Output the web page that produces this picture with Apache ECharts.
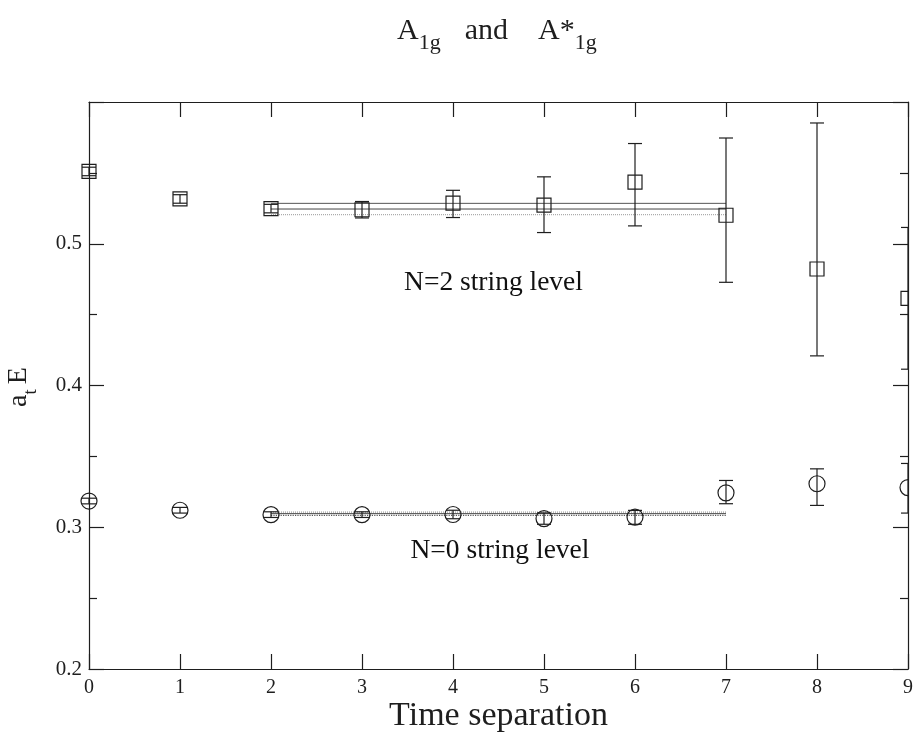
<!DOCTYPE html>
<html>
<head>
<meta charset="utf-8">
<script src="https://cdn.jsdelivr.net/npm/echarts@6/dist/echarts.min.js"></script>
<style>
  html, body { margin: 0; padding: 0; background: #fff; }
  #chart { width: 913px; height: 732px; }
</style>
</head>
<body>
<div id="chart"></div>
<script>
// Effective energies a_t E versus time separation
const timeSep = [0, 1, 2, 3, 4, 5, 6, 7, 8, 9];

// N=2 string level (squares)
const n2Energy  = [0.551, 0.5316, 0.5248, 0.524, 0.5286, 0.5272, 0.5435, 0.5201, 0.4822, 0.4615];
const n2ErrUp   = [0.003, 0.003, 0.003, 0.0058, 0.0091, 0.0200, 0.0272, 0.0545, 0.1030, 0.05];
const n2ErrDown = [0.003, 0.003, 0.003, 0.0058, 0.0101, 0.0193, 0.0309, 0.0473, 0.0613, 0.05];

// N=0 string level (circles)
const n0Energy  = [0.3185, 0.312, 0.3089, 0.3089, 0.309, 0.3061, 0.3072, 0.3243, 0.3307, 0.328];
const n0ErrUp   = [0.002, 0.002, 0.002, 0.002, 0.003, 0.004, 0.0047, 0.0087, 0.0105, 0.017];
const n0ErrDown = [0.002, 0.002, 0.002, 0.002, 0.003, 0.004, 0.0051, 0.0077, 0.0153, 0.018];

// Plateau fits: [lower, central, upper] over the fit window
const fitRange = [2, 7];
const n2Fit = [0.5205, 0.5245, 0.5285];
const n0Fit = [0.3084, 0.3096, 0.3107];

const yTickLabels = ['0.2', '0.3', '0.4', '0.5'];
const levelLabels = ['N=2 string level', 'N=0 string level'];
const levelLabelPos = [[4.445, 0.4726], [4.516, 0.2832]];

const INK = '#1e1e1e';
const SERIF = '"Liberation Serif", "DejaVu Serif", serif';

function errorBarRenderer(shape) {
  return function (params, api) {
    const x = api.value(0), v = api.value(1), up = api.value(2), dn = api.value(3);
    const c = api.coord([x, v]);
    const top = api.coord([x, v + up])[1];
    const bot = api.coord([x, v - dn])[1];
    const cs = params.coordSys;
    const cap = 7;
    const st = { stroke: INK, lineWidth: 1.2, fill: 'none' };
    const marker = shape === 'square'
      ? { type: 'rect', shape: { x: c[0] - 7, y: c[1] - 7, width: 14, height: 14 }, style: st }
      : { type: 'circle', shape: { cx: c[0], cy: c[1], r: 8 }, style: st };
    return {
      type: 'group',
      // points on the right frame are cut by it; the left frame is not
      clipPath: { type: 'rect', shape: { x: cs.x - 30, y: cs.y - 30, width: cs.width + 30, height: cs.height + 60 } },
      children: [
        { type: 'line', shape: { x1: c[0], y1: top, x2: c[0], y2: bot }, style: st },
        { type: 'line', shape: { x1: c[0] - cap, y1: top, x2: c[0] + cap, y2: top }, style: st },
        { type: 'line', shape: { x1: c[0] - cap, y1: bot, x2: c[0] + cap, y2: bot }, style: st },
        marker
      ]
    };
  };
}

function fitLine(value, color, type, width) {
  return {
    type: 'line',
    data: [[fitRange[0], value], [fitRange[1], value]],
    symbol: 'none',
    silent: true,
    lineStyle: { color: color, type: type, width: width },
    z: 1
  };
}

const tickStyle = { color: INK, width: 1.2 };

const chart = echarts.init(document.getElementById('chart'), null, { renderer: 'canvas' });
chart.setOption({
  backgroundColor: '#fff',
  animation: false,
  title: {
    text: '{a|A}{s|1g}{w|and}{a|A*}{s|1g}',
    left: 392,
    top: 11,
    textStyle: {
      rich: {
        a: { fontFamily: SERIF, fontSize: 30, fontWeight: 'normal', color: INK, lineHeight: 38, verticalAlign: 'top' },
        w: { fontFamily: SERIF, fontSize: 30, fontWeight: 'normal', color: INK, lineHeight: 38, verticalAlign: 'top', padding: [0, 30, 0, 24] },
        s: { fontFamily: SERIF, fontSize: 22, fontWeight: 'normal', color: INK, lineHeight: 20, verticalAlign: 'bottom' }
      }
    }
  },
  grid: { left: 89, right: 5, top: 102, bottom: 63, outerBoundsMode: 'none' },
  xAxis: [
    {
      type: 'value', min: 0, max: 9, interval: 1, position: 'bottom',
      axisLine: { onZero: false, lineStyle: tickStyle },
      axisTick: { inside: true, length: 15, lineStyle: tickStyle },
      axisLabel: { fontFamily: SERIF, fontSize: 20, color: INK, margin: 9 },
      splitLine: { show: false },
      name: 'Time separation',
      nameLocation: 'middle',
      nameMoveOverlap: false,
      nameGap: 30,
      nameTextStyle: { fontFamily: SERIF, fontSize: 34, color: INK }
    },
    {
      type: 'value', min: 0, max: 9, interval: 1, position: 'top',
      axisLine: { onZero: false, lineStyle: tickStyle },
      axisTick: { inside: true, length: 15, lineStyle: tickStyle },
      axisLabel: { show: false },
      splitLine: { show: false }
    }
  ],
  yAxis: [
    {
      type: 'value', min: 0.2, max: 0.6, interval: 0.1, position: 'left',
      axisLine: { onZero: false, lineStyle: tickStyle },
      axisTick: { inside: true, length: 15, lineStyle: tickStyle },
      minorTick: { show: true, splitNumber: 2, length: 8, lineStyle: tickStyle },
      axisLabel: {
        fontFamily: SERIF, fontSize: 21, color: INK, margin: 7,
        formatter: function (v) {
          const s = v.toFixed(1);
          return yTickLabels.indexOf(s) >= 0 ? s : '';
        }
      },
      splitLine: { show: false }
    },
    {
      type: 'value', min: 0.2, max: 0.6, interval: 0.1, position: 'right',
      axisLine: { onZero: false, lineStyle: tickStyle },
      axisTick: { inside: true, length: 15, lineStyle: tickStyle },
      minorTick: { show: true, splitNumber: 2, length: 8, lineStyle: tickStyle },
      axisLabel: { show: false },
      splitLine: { show: false }
    }
  ],
  graphic: [
    {
      type: 'text',
      x: 23, y: 387,
      rotation: Math.PI / 2,
      style: {
        text: '{a|a}{t|t}{a|E}',
        align: 'center', verticalAlign: 'middle',
        rich: {
          a: { fontFamily: SERIF, fontSize: 28, fill: INK, lineHeight: 36, verticalAlign: 'top' },
          t: { fontFamily: SERIF, fontSize: 19, fill: INK, lineHeight: 16, verticalAlign: 'bottom', padding: [0, 5, 0, 0] }
        }
      }
    }
  ],
  series: [
    fitLine(n2Fit[0], '#999', 'dotted', 1),
    fitLine(n2Fit[1], '#444', 'solid', 1),
    fitLine(n2Fit[2], '#555', 'solid', 1),
    fitLine(n0Fit[0], '#555', 'dotted', 1.2),
    fitLine(n0Fit[1], '#444', 'solid', 1),
    fitLine(n0Fit[2], '#888', 'dotted', 1),
    {
      type: 'custom',
      renderItem: errorBarRenderer('square'),
      clip: false,
      encode: { x: 0, y: 1 },
      data: timeSep.map((t, i) => [t, n2Energy[i], n2ErrUp[i], n2ErrDown[i]]),
      z: 3
    },
    {
      type: 'custom',
      renderItem: errorBarRenderer('circle'),
      clip: false,
      encode: { x: 0, y: 1 },
      data: timeSep.map((t, i) => [t, n0Energy[i], n0ErrUp[i], n0ErrDown[i]]),
      z: 3
    },
    {
      type: 'scatter',
      symbolSize: 0,
      silent: true,
      itemStyle: { opacity: 1 },
      data: levelLabelPos.map((p, i) => ({ value: p, name: levelLabels[i] })),
      label: {
        show: true, position: 'inside',
        formatter: function (p) { return p.name; },
        fontFamily: SERIF, fontSize: 27.5, color: '#111', opacity: 1, textBorderWidth: 0
      }
    }
  ]
});
</script>
</body>
</html>
